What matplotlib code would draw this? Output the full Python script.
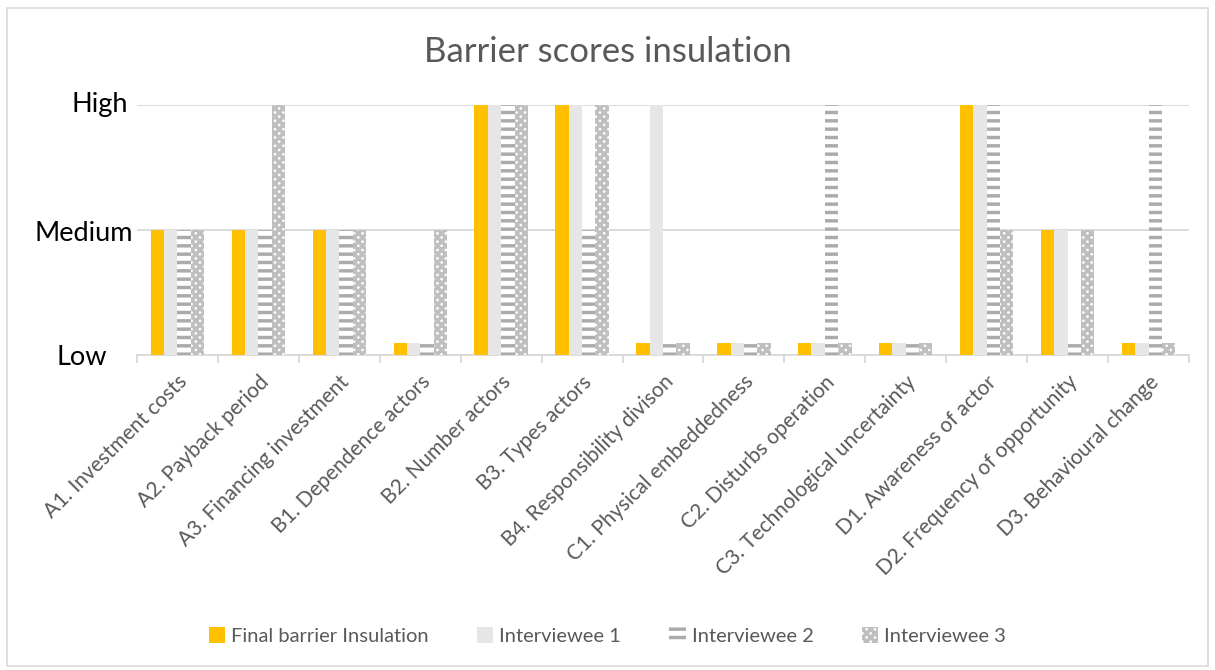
import numpy as np
import matplotlib.pyplot as plt
from matplotlib.patches import Rectangle
from matplotlib.transforms import blended_transform_factory

# barrier scores: Low ~ 0.1, Medium = 1, High = 2
categories = ['A1. Investment costs', 'A2. Payback period', 'A3. Financing investment',
              'B1. Dependence actors', 'B2. Number actors', 'B3. Types actors',
              'B4. Responsibility divison', 'C1. Physical embeddedness', 'C2. Disturbs operation',
              'C3. Technological uncertainty', 'D1. Awareness of actor',
              'D2. Frequency of opportunity', 'D3. Behavioural change']
final_barrier = [1, 1, 1, 0.1, 2, 2, 0.1, 0.1, 0.1, 0.1, 2, 1, 0.1]
interviewee_1 = [1, 1, 1, 0.1, 2, 2, 2, 0.1, 0.1, 0.1, 2, 1, 0.1]
interviewee_2 = [1, 1, 1, 0.1, 2, 1, 0.1, 0.1, 2, 0.1, 2, 0.1, 2]
interviewee_3 = [1, 2, 1, 1, 2, 2, 0.1, 0.1, 0.1, 0.1, 1, 1, 0.1]
series_names = ['Final barrier Insulation', 'Interviewee 1', 'Interviewee 2', 'Interviewee 3']
ytick_values = [0, 1, 2]
ytick_labels = ['Low', 'Medium', 'High']

plt.rcParams['font.family'] = ['Lato', 'DejaVu Sans']
plt.rcParams['hatch.linewidth'] = 2.5

fig = plt.figure(figsize=(12.15, 6.7), dpi=100)
fig.patches.append(Rectangle((0.006, 0.006), 0.988, 0.982, transform=fig.transFigure,
                             fill=False, edgecolor='#d9d9d9', linewidth=1.2))

ax = fig.add_axes((137/1215, 1 - 355/670, (1189 - 137)/1215, 250/670))

x = np.arange(len(categories))
w = 0.165
styles = [dict(color='#FFC000'),
          dict(color='#E7E6E6'),
          dict(facecolor='white', edgecolor='#AEAAAA', hatch='--', linewidth=0),
          dict(facecolor='white', edgecolor='#BFBFBF', hatch='xxxx', linewidth=0)]
for i, (vals, st) in enumerate(zip([final_barrier, interviewee_1, interviewee_2, interviewee_3], styles)):
    ax.bar(x + (i - 1.5) * w, vals, w, label=series_names[i], zorder=3, **st)

ax.set_xlim(-0.5, len(categories) - 0.5)
ax.set_ylim(0, 2)
ax.set_yticks(ytick_values)
ax.set_yticklabels([])
ax.yaxis.grid(True, color='#d9d9d9', linewidth=1.3, zorder=0)
ax.tick_params(axis='y', length=0)

# the value labels sit a bit unevenly in the original
trans = blended_transform_factory(fig.transFigure, ax.transData)
label_right = [107/1215, 133/1215, 128/1215]
label_dy = [-0.02, -0.03, 0.0]
for v, lab, xr, dy in zip(ytick_values, ytick_labels, label_right, label_dy):
    ax.text(xr, v + dy, lab, transform=trans, ha='right', va='center',
            fontsize=19.5, color='black', clip_on=False)

ax.set_xticks(x)
ax.set_xticklabels(categories, rotation=45, ha='right', rotation_mode='anchor',
                   fontsize=15, color='#595959')
ax.set_xticks(np.arange(-0.5, len(categories)), minor=True)
ax.tick_params(axis='x', which='major', length=0, pad=12)
ax.tick_params(axis='x', which='minor', length=6, color='#d9d9d9', width=1.3)
for s in ['top', 'right', 'left']:
    ax.spines[s].set_visible(False)
ax.spines['bottom'].set_color('#d9d9d9')
ax.spines['bottom'].set_linewidth(1.3)

fig.text(0.5, 1 - 52/670, 'Barrier scores insulation', ha='center', va='center',
         fontsize=25, color='#595959')

fig.legend(loc='center', bbox_to_anchor=(0.5, 1 - 636/670), ncol=4, frameon=False,
           fontsize=14.5, labelcolor='#595959', handlelength=0.8, handleheight=0.8,
           handletextpad=0.3, columnspacing=2.4)

fig.savefig('out.png', dpi=100)
